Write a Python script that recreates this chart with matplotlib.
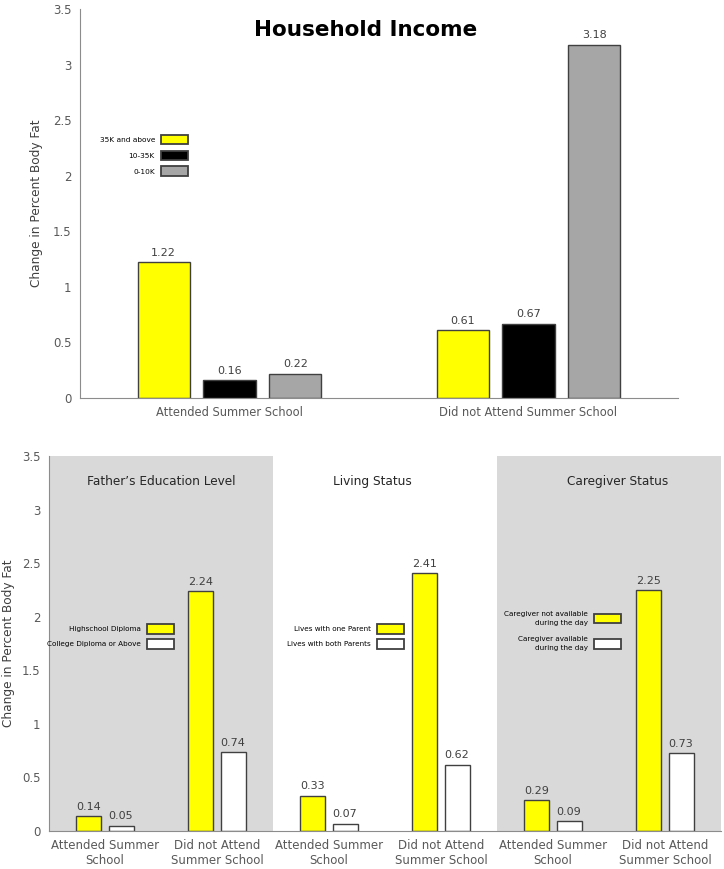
import matplotlib.pyplot as plt
from matplotlib.patches import Patch
from matplotlib.legend import Legend
import numpy as np

# top chart: household income
income_groups = ["Attended Summer School", "Did not Attend Summer School"]
income_labels = ["35K and above", "10-35K", "0-10K"]
income_values = [
    [1.22, 0.61],   # 35K and above
    [0.16, 0.67],   # 10-35K
    [0.22, 3.18],   # 0-10K
]
income_colors = ["#FFFF00", "#000000", "#A6A6A6"]

# bottom chart: three panels, two series each
panel_titles = ["Father\u2019s Education Level", "Living Status", "Caregiver Status"]
school_ticks = ["Attended Summer\nSchool", "Did not Attend\nSummer School"] * 3
yellow_values = [0.14, 2.24, 0.33, 2.41, 0.29, 2.25]
white_values = [0.05, 0.74, 0.07, 0.62, 0.09, 0.73]
panel_legends = [
    ["Highschool Diploma", "College Diploma or Above"],
    ["Lives with one Parent", "Lives with both Parents"],
    ["Caregiver not available\nduring the day", "Caregiver available\nduring the day"],
]

TICK_C = "#595959"
TEXT_C = "#404040"
EDGE_C = "#404040"

plt.rcParams["font.family"] = "DejaVu Sans"

fig = plt.figure(figsize=(7.24, 8.69), dpi=100)


def style_axes(ax, tick_size):
    for s in ["top", "right"]:
        ax.spines[s].set_visible(False)
    for s in ["left", "bottom"]:
        ax.spines[s].set_color("#8C8C8C")
    ax.tick_params(length=0, colors=TICK_C, labelsize=tick_size, pad=6)
    ax.set_ylim(0, 3.5)
    ax.set_yticks([0, 0.5, 1, 1.5, 2, 2.5, 3, 3.5])
    ax.set_yticklabels(["0", "0.5", "1", "1.5", "2", "2.5", "3", "3.5"])
    ax.set_ylabel("Change in Percent Body Fat", fontsize=8.7, color=TEXT_C)


# ---- top panel ----
ax1 = fig.add_axes([80 / 724, 1 - 398 / 869, 598 / 724, 389 / 869])
style_axes(ax1, 8.5)
x = np.arange(len(income_groups))
offsets = [-0.22, 0.0, 0.22]
handles = []
for vals, lab, col, off in zip(income_values, income_labels, income_colors, offsets):
    bars = ax1.bar(x + off, vals, width=0.174, color=col, edgecolor=EDGE_C, linewidth=1)
    ax1.bar_label(bars, labels=[f"{v:.2f}" for v in vals], padding=3,
                  fontsize=8, color=TEXT_C)
    handles.append(Patch(facecolor=col, edgecolor=EDGE_C, linewidth=1.3, label=lab))
ax1.set_xlim(-0.5, 1.5)
ax1.set_xticks(x)
ax1.set_xticklabels(income_groups, fontsize=8.3)
ax1.yaxis.set_label_coords(-0.062, 0.5)
ax1.text(0.478, 0.946, "Household Income", transform=ax1.transAxes, ha="center",
         va="center", fontsize=15.5, fontweight="bold", color="black")
ax1.legend(handles=handles, loc="upper right", bbox_to_anchor=(188 / 724, 1 - 135 / 869),
           bbox_transform=fig.transFigure, frameon=False, markerfirst=False,
           fontsize=5.3, handlelength=3.7, handleheight=1.6, labelspacing=0.85,
           handletextpad=0.8, borderpad=0, borderaxespad=0)

# ---- bottom panel ----
ax2 = fig.add_axes([49 / 724, 1 - 831 / 869, 672 / 724, 375 / 869])
style_axes(ax2, 8.5)
ax2.axvspan(-0.5, 1.5, color="#D9D9D9", zorder=0, lw=0)
ax2.axvspan(3.5, 5.5, color="#D9D9D9", zorder=0, lw=0)
x2 = np.arange(len(school_ticks))
b1 = ax2.bar(x2 - 0.143, yellow_values, width=0.223, color="#FFFF00",
             edgecolor=EDGE_C, linewidth=1, zorder=2)
b2 = ax2.bar(x2 + 0.143, white_values, width=0.223, color="white",
             edgecolor=EDGE_C, linewidth=1, zorder=2)
ax2.bar_label(b1, labels=[f"{v:.2f}" for v in yellow_values], padding=3,
              fontsize=8, color=TEXT_C)
ax2.bar_label(b2, labels=[f"{v:.2f}" for v in white_values], padding=3,
              fontsize=8, color=TEXT_C)
ax2.set_xlim(-0.5, 5.5)
ax2.set_xticks(x2)
ax2.set_xticklabels(school_ticks, fontsize=8.5)
ax2.yaxis.set_label_coords(-0.05, 0.5)

for title, tx in zip(panel_titles, [0.5, 2.39, 4.58]):
    ax2.text(tx, 3.26, title, ha="center", va="center", fontsize=8.7, color="#262626")

legend_anchor = [(174, 624), (404, 624), (621, 611)]
legend_gap = [0.75, 0.75, 1.5]
for labs, (px, py), gap in zip(panel_legends, legend_anchor, legend_gap):
    hs = [Patch(facecolor="#FFFF00", edgecolor=EDGE_C, linewidth=1.3, label=labs[0]),
          Patch(facecolor="white", edgecolor=EDGE_C, linewidth=1.3, label=labs[1])]
    leg = Legend(ax2, hs, labs, loc="upper right", bbox_to_anchor=(px / 724, 1 - py / 869),
                 bbox_transform=fig.transFigure, frameon=False, markerfirst=False,
                 fontsize=5.2, handlelength=3.8, handleheight=1.7, labelspacing=gap,
                 handletextpad=0.8, borderpad=0, borderaxespad=0)
    for t in leg.get_texts():
        t.set_multialignment("right")
        t.set_linespacing(1.5)
    ax2.add_artist(leg)

fig.savefig("out.png", dpi=100)
